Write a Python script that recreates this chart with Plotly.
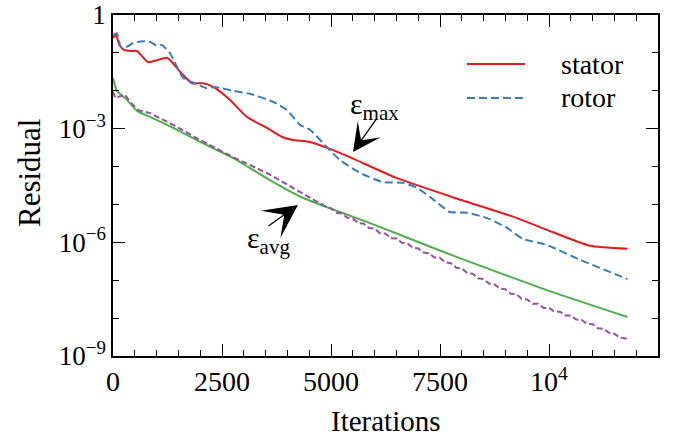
import numpy as np
import plotly.graph_objects as go

# Convergence history: iteration number and log10 of the residual
stator_max_iter = [0, 70, 150, 250, 390, 550, 800, 1240, 1350, 1540, 1810, 2070, 2300, 2680,
                   3070, 3530, 3880, 4130, 4520, 4900, 5430, 6500, 7900, 9270, 9950, 10940, 11800]
stator_max_log = [-0.61, -0.53, -0.80, -0.92, -0.95, -0.95, -1.24, -1.13, -1.24, -1.50, -1.80,
                  -1.80, -1.90, -2.24, -2.69, -2.98, -3.22, -3.30, -3.35, -3.50, -3.75, -4.30,
                  -4.85, -5.36, -5.67, -6.09, -6.17]

rotor_max_iter = [0, 90, 180, 320, 460, 690, 850, 1000, 1120, 1310, 1610, 1920, 2150, 2340,
                  2750, 3140, 3670, 3990, 4290, 4520, 4900, 5210, 5670, 6190, 6650, 6970, 7270,
                  7730, 8120, 8580, 9040, 9400, 9950, 10710, 11800]
rotor_max_log = [-0.53, -0.48, -0.84, -0.84, -0.74, -0.69, -0.71, -0.81, -0.79, -1.01, -1.66,
                 -1.82, -1.93, -1.90, -2.00, -2.08, -2.29, -2.51, -2.90, -3.03, -3.48, -3.83,
                 -4.17, -4.41, -4.43, -4.56, -4.80, -5.20, -5.22, -5.36, -5.62, -5.91, -6.07,
                 -6.46, -6.97]

stator_avg_iter = [0, 90, 320, 550, 850, 1380, 2000, 2750, 3530, 4290, 4900, 5820, 6580,
                   7890, 9950, 11800]
stator_avg_log = [-1.66, -2.00, -2.24, -2.53, -2.69, -2.98, -3.35, -3.77, -4.31, -4.79, -5.07,
                  -5.46, -5.80, -6.39, -7.26, -7.97]

rotor_avg_iter = [0, 60, 150, 270, 400, 580, 850, 1380, 2000, 2750, 3530, 4290, 4900,
                  5000, 5125, 5250, 5375, 5500, 5625, 5750, 5875, 6000, 6125, 6250, 6375,
                  6500, 6625, 6750, 6875, 7000, 7125, 7250, 7375, 7500, 7625, 7750, 7875,
                  8000, 8125, 8250, 8375, 8500, 8625, 8750, 8875, 9000, 9125, 9250, 9375,
                  9500, 9625, 9750, 9875, 10000, 10125, 10250, 10375, 10500, 10625, 10750,
                  10875, 11000, 11125, 11250, 11375, 11500, 11625, 11750, 11800]
rotor_avg_log = [-2.03, -2.20, -2.15, -2.10, -2.30, -2.51, -2.59, -2.90, -3.30, -3.75, -4.17,
                 -4.67, -5.07,
                 -5.10, -5.22, -5.24, -5.35, -5.37, -5.49, -5.51, -5.62, -5.64, -5.76, -5.77,
                 -5.89, -5.90, -6.01, -6.03, -6.14, -6.16, -6.27, -6.29, -6.40, -6.41, -6.53,
                 -6.55, -6.67, -6.69, -6.81, -6.83, -6.95, -6.97, -7.09, -7.11, -7.22, -7.24,
                 -7.36, -7.37, -7.49, -7.51, -7.62, -7.62, -7.73, -7.73, -7.83, -7.83, -7.93,
                 -7.93, -8.04, -8.05, -8.15, -8.16, -8.27, -8.28, -8.39, -8.41, -8.52, -8.53,
                 -8.60]

x_tick_vals = [0, 2500, 5000, 7500, 10000]
x_tick_text = ["0", "2500", "5000", "7500", "10<sup>4</sup>"]
y_tick_vals = [1, 1e-3, 1e-6, 1e-9]
y_tick_text = ["1", "10<sup>−3</sup>", "10<sup>−6</sup>", "10<sup>−9</sup>"]
y_decades = [10.0 ** -k for k in range(0, 10)]

legend_names = ["stator", "rotor"]

FONT = "Liberation Serif"
RED, BLUE, GREEN, PURPLE = "#e41a1c", "#377eb8", "#4daf4a", "#984ea3"
BLUE_DASH = "8px,4px"

fig = go.Figure()
fig.add_trace(go.Scatter(x=stator_avg_iter, y=10.0 ** np.array(stator_avg_log), mode="lines",
                         line=dict(color=GREEN, width=2, shape="spline", smoothing=0.5),
                         showlegend=False))
fig.add_trace(go.Scatter(x=rotor_avg_iter, y=10.0 ** np.array(rotor_avg_log), mode="lines",
                         line=dict(color=PURPLE, width=2, dash="6px,3px"),
                         showlegend=False))
fig.add_trace(go.Scatter(x=stator_max_iter, y=10.0 ** np.array(stator_max_log), mode="lines",
                         name=legend_names[0], showlegend=False,
                         line=dict(color=RED, width=2, shape="spline", smoothing=0.5)))
fig.add_trace(go.Scatter(x=rotor_max_iter, y=10.0 ** np.array(rotor_max_log), mode="lines",
                         name=legend_names[1], showlegend=False,
                         line=dict(color=BLUE, width=2, dash=BLUE_DASH, shape="spline",
                                   smoothing=0.5)))

axis_common = dict(showgrid=False, zeroline=False, showline=True, linecolor="black",
                   linewidth=1.5, mirror="ticks", ticks="inside", tickcolor="black",
                   tickwidth=1.2, ticklen=12, automargin=False)

fig.update_xaxes(range=[0, 12500], tickmode="array", tickvals=x_tick_vals,
                 ticktext=x_tick_text,
                 tickfont=dict(family=FONT, size=28, color="black"),
                 minor=dict(dtick=500, tick0=0, ticks="inside", ticklen=6, tickwidth=1.2,
                            tickcolor="black"),
                 **axis_common)
fig.update_yaxes(type="log", range=[-9, 0], tickmode="array", tickvals=y_tick_vals,
                 ticktext=y_tick_text,
                 tickfont=dict(family=FONT, size=27, color="black"),
                 minor=dict(tickmode="array", tickvals=y_decades, ticks="inside", ticklen=6,
                            tickwidth=1.2, tickcolor="black"),
                 **axis_common)

annots = [
    dict(text="Iterations", x=0.5, y=-0.19, xref="paper", yref="paper",
         showarrow=False, xanchor="center", yanchor="middle",
         font=dict(family=FONT, size=29, color="black")),
    dict(text="Residual", x=-0.152, y=0.537, xref="paper", yref="paper", textangle=-90,
         showarrow=False, xanchor="center", yanchor="middle",
         font=dict(family=FONT, size=31, color="black")),
    dict(text="ε<sub>max</sub>", x=6009, y=-2.40, xref="x", yref="y",
         showarrow=False, xanchor="center", yanchor="middle",
         font=dict(family=FONT, size=30, color="black")),
    dict(text="", x=5505, y=-3.616, xref="x", yref="y", ax=24, ay=-34,
         showarrow=True, arrowhead=3, arrowsize=3.6, arrowwidth=1.3, arrowcolor="black"),
    dict(text="ε<sub>avg</sub>", x=3555, y=-5.94, xref="x", yref="y",
         showarrow=False, xanchor="center", yanchor="middle",
         font=dict(family=FONT, size=30, color="black")),
    dict(text="", x=4243, y=-5.015, xref="x", yref="y", ax=-31, ay=22,
         showarrow=True, arrowhead=3, arrowsize=4.3, arrowwidth=1.3, arrowcolor="black"),
]

# Legend key: short line samples with labels in the upper right of the plot area
legend_styles = [dict(color=RED, width=2), dict(color=BLUE, width=2, dash=BLUE_DASH)]
legend_rows_y = [0.8563, 0.7566]
shapes = []
for name, style, ry in zip(legend_names, legend_styles, legend_rows_y):
    shapes.append(dict(type="line", xref="paper", yref="paper", x0=0.6495, x1=0.756,
                       y0=ry, y1=ry, line=style))
    annots.append(dict(text=name, x=0.8183, y=ry, xref="paper", yref="paper",
                       showarrow=False, xanchor="left", yanchor="middle",
                       font=dict(family=FONT, size=28, color="black")))

fig.update_layout(
    width=679, height=440,
    margin=dict(l=113, r=21, t=15, b=84, autoexpand=False),
    paper_bgcolor="white", plot_bgcolor="white",
    font=dict(family=FONT, color="black"),
    annotations=annots,
    shapes=shapes,
    showlegend=False,
)

fig.write_html("out.html")
